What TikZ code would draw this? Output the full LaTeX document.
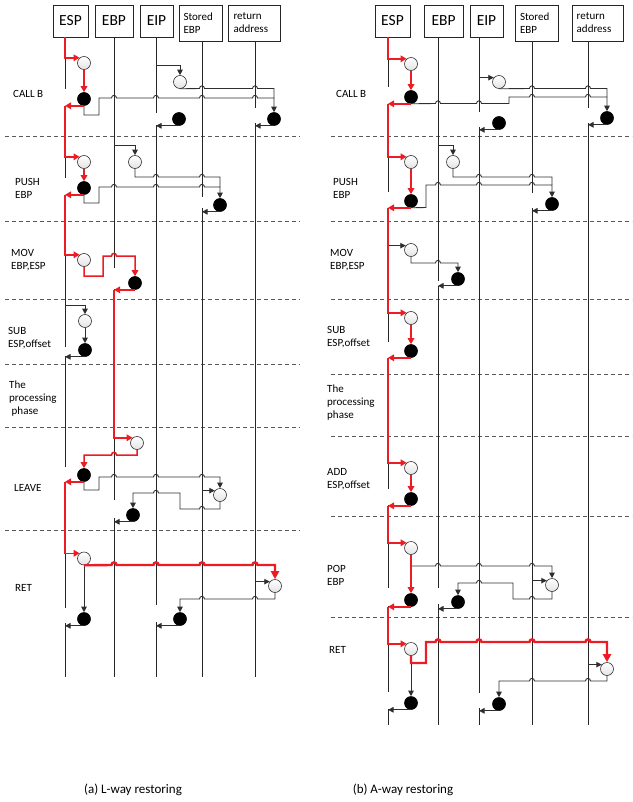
\documentclass[tikz,border=0pt]{standalone}
\usepackage{fontspec}
\setmainfont{Carlito}
\usetikzlibrary{arrows.meta}
\definecolor{rred}{RGB}{237,28,36}
\begin{document}
\begin{tikzpicture}[x=1pt,y=-1pt,
  hdr/.style={draw=black!85, line width=0.7pt, inner sep=0pt},
  big/.style={font=\fontsize{15.5}{18}\selectfont},
  sm/.style={font=\fontsize{11}{13}\selectfont},
  oc/.style={circle, draw=black!80, line width=0.6pt, top color=white, bottom color=gray!22, minimum size=13pt, inner sep=0pt},
  fc/.style={circle, draw=black, line width=0.6pt, fill=black, minimum size=13pt, inner sep=0pt},
  life/.style={draw=black!85, line width=0.85pt},
  con/.style={draw=black!82, line width=0.9pt},
  ar/.style={-{Triangle[length=5.5pt,width=5.5pt]}},
  rd/.style={draw=rred, line width=1.5pt},
  rdk/.style={draw=rred, line width=2.4pt},
  rar/.style={-{Triangle[length=6pt,width=6.5pt]}},
  rarb/.style={-{Triangle[length=8pt,width=8pt]}},
  sepl/.style={draw=black!65, dash pattern=on 4pt off 3pt, line width=0.7pt},
  lbl/.style={sm, anchor=west, align=left, inner sep=0pt},
  hr/.style 2 args={insert path={-- (#1-2.5,#2) .. controls (#1-2.5,#2-3.5) and (#1+2.5,#2-3.5) .. (#1+2.5,#2)}},
  hl/.style 2 args={insert path={-- (#1+2.5,#2) .. controls (#1+2.5,#2-3.5) and (#1-2.5,#2-3.5) .. (#1-2.5,#2)}},
]
\useasboundingbox (0,0) rectangle (632,802);

% column coordinates
\coordinate (aESP) at (65,0); \coordinate (aEBP) at (114,0); \coordinate (aEIP) at (156,0);
\coordinate (aST) at (202,0); \coordinate (aRA) at (255,0);
\coordinate (bESP) at (388,0); \coordinate (bEBP) at (438,0); \coordinate (bEIP) at (479,0);
\coordinate (bST) at (532,0); \coordinate (bRA) at (588,0);

% headers (a)
\node[hdr, big, minimum width=35pt, minimum height=32pt] (haESP) at (70.5,21) {ESP};
\node[hdr, big, minimum width=38pt, minimum height=32pt] (haEBP) at (114,21) {EBP};
\node[hdr, big, minimum width=33pt, minimum height=32pt] (haEIP) at (156.5,21) {EIP};
\node[hdr, sm, minimum width=43pt, minimum height=36pt, text width=34pt, align=left] (haST) at (200.5,23) {Stored\\EBP};
\node[hdr, sm, minimum width=52pt, minimum height=36pt, text width=41pt, align=left] (haRA) at (254,23) {return\\address};
% headers (b)
\node[hdr, big, minimum width=35pt, minimum height=32pt] (hbESP) at (392.5,21) {ESP};
\node[hdr, big, minimum width=39pt, minimum height=32pt] (hbEBP) at (443.5,21) {EBP};
\node[hdr, big, minimum width=33pt, minimum height=32pt] (hbEIP) at (486.5,21) {EIP};
\node[hdr, sm, minimum width=43pt, minimum height=36pt, text width=33pt, align=left] (hbST) at (536.5,23) {Stored\\EBP};
\node[hdr, sm, minimum width=51pt, minimum height=36pt, text width=41.6pt, align=left] (hbRA) at (597.5,23) {return\\address};

% separators
\foreach \yy in {136,221,299,364,427,530} \draw[sepl] (5,\yy) -- (300,\yy);
\foreach \yy in {136,221,299,374,436,516,617} \draw[sepl] (331,\yy) -- (632,\yy);

% labels (a)
\node[lbl] (la1) at (13,94) {CALL B};
\node[lbl] (la2) at (15,188) {PUSH\\EBP};
\node[lbl] (la3) at (11,260.5) {MOV\\EBP,ESP};
\node[lbl] (la4) at (8,338) {SUB\\ESP,offset};
\node[lbl] (la5) at (9,399) {The\\processing\\\hspace{2.5pt}phase};
\node[lbl] (la6) at (14,488) {LEAVE};
\node[lbl] (la7) at (15,588) {RET};
% labels (b)
\node[lbl] (lb1) at (336,94) {CALL B};
\node[lbl] (lb2) at (333,188) {PUSH\\EBP};
\node[lbl] (lb3) at (330,260) {MOV\\EBP,ESP};
\node[lbl] (lb4) at (327,337.5) {SUB\\ESP,offset};
\node[lbl] (lb5) at (327,403) {The\\processing\\phase};
\node[lbl] (lb6) at (327,479.5) {ADD\\ESP,offset};
\node[lbl] (lb7) at (327,575) {POP\\EBP};
\node[lbl] (lb8) at (329,650) {RET};
% captions
\node[font=\fontsize{13}{15}\selectfont] (capa) at (133,790) {(a) L-way restoring};
\node[font=\fontsize{13}{15}\selectfont] (capb) at (403,790) {(b) A-way restoring};

% circles (a)
\node[oc] (a1o) at (84,63) {};
\node[fc] (a1f) at (84,99) {};
\node[oc] (a1e) at (180,82) {};
\node[fc] (a1r) at (274,119) {};
\node[fc] (a1ef) at (179,119) {};
\node[oc] (a2o) at (84,162) {};
\node[fc] (a2f) at (84,188) {};
\node[oc] (a2b) at (135,162) {};
\node[fc] (a2s) at (220,205) {};
\node[oc] (a3o) at (84,260) {};
\node[fc] (a3f) at (135,283) {};
\node[oc] (a4o) at (85,321) {};
\node[fc] (a4f) at (85,350) {};
\node[oc] (a6o) at (137,443) {};
\node[fc] (a6f) at (84,475) {};
\node[oc] (a6s) at (220,495) {};
\node[fc] (a6e) at (133,515) {};
\node[oc] (a7o) at (84,558.5) {};
\node[oc] (a7r) at (275,586) {};
\node[fc] (a7f) at (84,619) {};
\node[fc] (a7e) at (180,619) {};
% circles (b)
\node[oc] (b1o) at (411,64) {};
\node[fc] (b1f) at (411,97) {};
\node[oc] (b1e) at (499,82) {};
\node[fc] (b1r) at (607,118) {};
\node[fc] (b1ef) at (499,123) {};
\node[oc] (b2o) at (411,162) {};
\node[fc] (b2f) at (411,201) {};
\node[oc] (b2b) at (453,162) {};
\node[fc] (b2s) at (552,204) {};
\node[oc] (b3o) at (411,250) {};
\node[fc] (b3f) at (458,279) {};
\node[oc] (b4o) at (411,318) {};
\node[fc] (b4f) at (411,351) {};
\node[oc] (b5o) at (411,468) {};
\node[fc] (b5f) at (411,499) {};
\node[oc] (b6o) at (411,548) {};
\node[fc] (b6f) at (411,600) {};
\node[oc] (b6s) at (552,585) {};
\node[fc] (b6e) at (458,602) {};
\node[oc] (b7o) at (411,649) {};
\node[oc] (b7r) at (607,669) {};
\node[fc] (b7f) at (411,703) {};
\node[fc] (b7e) at (499,704) {};

% lifelines (a)
\draw[life] (65,37) -- (65,89);
\draw[life] (65,107) -- (65,178);
\draw[life] (65,195) -- (65,347);
\draw[life] (65,356) -- (65,467);
\draw[life] (65,482) -- (65,608);
\draw[life] (65,623) -- (65,677);
\draw[life] (114,37) -- (114,268);
\draw[life] (114,289) -- (114,500);
\draw[life] (114,518) -- (114,677);
\draw[life] (156,37) -- (156,113);
\draw[life] (156,125) -- (156,605);
\draw[life] (156,622) -- (156,677);
\draw[life] (202,41) -- (202,197);
\draw[life] (202,208) -- (202,677);
\draw[life] (255,41) -- (255,108);
\draw[life] (255,123) -- (255,677);
% lifelines (b)
\draw[life] (388,37) -- (388,87);
\draw[life] (388,104) -- (388,192);
\draw[life] (388,208) -- (388,342);
\draw[life] (388,358) -- (388,489);
\draw[life] (388,505) -- (388,588);
\draw[life] (388,606) -- (388,692);
\draw[life] (388,709) -- (388,725);
\draw[life] (438,37) -- (438,281);
\draw[life] (438,286) -- (438,588);
\draw[life] (438,604) -- (438,725);
\draw[life] (479,37) -- (479,112);
\draw[life] (479,127) -- (479,693);
\draw[life] (479,708) -- (479,725);
\draw[life] (532,41) -- (532,193);
\draw[life] (532,208) -- (532,725);
\draw[life] (588,41) -- (588,108);
\draw[life] (588,123) -- (588,725);

% ---------- black connectors (a)
% CALL B
\draw[con,ar] (a1f.south) -- (84,115) -- (99,115) -- (99,98) [hr={114}{98}] [hr={156}{98}] [hr={202}{98}] [hr={255}{98}] -| (a1r.north);
\draw[con,ar] (156,65) -| (a1e.north);
\draw[con] (a1e.south) [hr={202}{88.5}] [hr={255}{88.5}] -- (274,88.5) -- (274,98);
\draw[con,ar] (a1ef.south) -- (a1ef.south -| aEIP);
\draw[con,ar] (a1r.south) -- (a1r.south -| aRA);
% PUSH EBP
\draw[con,ar] (a2f.south) -- (84,203) -- (99,203) -- (99,187) [hr={114}{187}] [hr={156}{187}] [hr={202}{187}] -| (a2s.north);
\draw[con,ar] (114,145) -| (a2b.north);
\draw[con] (a2b.south) -- (135,177) [hr={156}{177}] [hr={202}{177}] -- (220,177) -- (220,187);
\draw[con,ar] (a2s.south) -- (a2s.south -| aST);
% SUB
\draw[con,ar] (65,305) -| (a4o.north);
\draw[con,ar] (a4o.south) -- (a4f.north);
\draw[con,ar] (a4f.south) -- (a4f.south -| aESP);
% LEAVE
\draw[con,ar] (a6f.south) -- (84,490) -- (99,490) -- (99,477) [hr={114}{477}] [hr={156}{477}] [hr={202}{477}] -| (a6s.north);
\draw[con,ar] (a6s.140 -| aST) -- (a6s.140);
\draw[con,ar] (a6s.south) -- (220,509) [hl={202}{509}] -- (180,509) -- (180,493) [hl={156}{493}] -| (a6e.north);
\draw[con,ar] (a6e.south) -- (a6e.south -| aEBP);
% RET
\draw[con,ar] (a7r.140 -| aRA) -- (a7r.140);
\draw[con,ar] (a7o.south) -- (a7f.north);
\draw[con,ar] (a7f.south) -- (a7f.south -| aESP);
\draw[con,ar] (a7r.south) -- (275,599) [hl={255}{599}] [hl={202}{599}] -| (a7e.north);
\draw[con,ar] (a7e.south) -- (a7e.south -| aEIP);

% ---------- black connectors (b)
% CALL B
\draw[con,ar] (b1f.south) [hr={438}{103.5}] [hr={479}{103.5}] -- (509,103.5) -- (509,97) [hr={532}{97}] [hr={588}{97}] -| (b1r.north);
\draw[con,ar] (b1e.140 -| bEIP) -- (b1e.140);
\draw[con] (b1e.south) [hr={532}{88.5}] [hr={588}{88.5}] -- (607,88.5) -- (607,97);
\draw[con,ar] (b1ef.south) -- (b1ef.south -| bEIP);
\draw[con,ar] (b1r.south) -- (b1r.south -| bRA);
% PUSH EBP
\draw[con,ar] (b2f.south) -- (426,207.5) -- (426,185) [hr={438}{185}] [hr={479}{185}] [hr={532}{185}] -| (b2s.north);
\draw[con,ar] (438,145) -| (b2b.north);
\draw[con] (b2b.south) -- (453,177) [hr={479}{177}] [hr={532}{177}] -- (552,177) -- (552,185);
\draw[con,ar] (b2s.south) -- (b2s.south -| bST);
% MOV
\draw[con,ar] (b3o.140 -| bESP) -- (b3o.140);
\draw[con,ar] (b3o.south) -- (411,263) [hr={438}{263}] -| (b3f.north);
\draw[con,ar] (b3f.south) -- (b3f.south -| bEBP);
% POP
\draw[con,ar] (b6o.south) -- (411,566) [hr={438}{566}] [hr={479}{566}] [hr={532}{566}] -| (b6s.north);
\draw[con,ar] (b6s.140 -| bST) -- (b6s.140);
\draw[con,ar] (b6s.south) -- (552,599) [hl={532}{599}] -- (513,599) -- (513,583) [hl={479}{583}] -| (b6e.north);
\draw[con,ar] (b6e.south) -- (b6e.south -| bEBP);
% RET
\draw[con,ar] (b7r.140 -| bRA) -- (b7r.140);
\draw[con,ar] (b7o.south) -- (b7f.north);
\draw[con,ar] (b7f.south) -- (b7f.south -| bESP);
\draw[con,ar] (b7r.south) -- (607,681) [hl={588}{681}] [hl={532}{681}] -| (b7e.north);
\draw[con,ar] (b7e.south) -- (b7e.south -| bEIP);

% ---------- red path (a)
\draw[rd,rar] (65,37) |- (a1o.130);
\draw[rd,rar] (a1o.south) -- (a1f.north);
\draw[rd,rar] (a1f.south) -- (a1f.south -| aESP);
\draw[rd,rar] (a1f.south -| aESP) |- (a2o.130);
\draw[rd,rar] (a2o.south) -- (a2f.north);
\draw[rd,rar] (a2f.south) -- (a2f.south -| aESP);
\draw[rd,rar] (a2f.south -| aESP) |- (a3o.130);
\draw[rd,rar] (a3o.south) -- (84,276) -- (103,276) -- (103,256) [hr={114}{256}] -| (a3f.north);
\draw[rd,rar] (a3f.south) -- (a3f.south -| aEBP);
\draw[rd,rar] (a3f.south -| aEBP) |- (a6o.130);
\draw[rd,rar] (a6o.south) -- (137,455) [hl={114}{455}] -| (a6f.north);
\draw[rd,rar] (a6f.south) -- (a6f.south -| aESP);
\draw[rd,rar] (a6f.south -| aESP) |- (a7o.130);
\draw[rdk,rarb] (a7o.south) [hr={114}{565}] [hr={156}{565}] [hr={202}{565}] [hr={255}{565}] -| (a7r.north);

% ---------- red path (b)
\draw[rd,rar] (388,37) |- (b1o.130);
\draw[rd,rar] (b1o.south) -- (b1f.north);
\draw[rd,rar] (b1f.south) -- (b1f.south -| bESP);
\draw[rd,rar] (b1f.south -| bESP) |- (b2o.130);
\draw[rd,rar] (b2o.south) -- (b2f.north);
\draw[rd,rar] (b2f.south) -- (b2f.south -| bESP);
\draw[rd,rar] (b2f.south -| bESP) |- (b4o.130);
\draw[rd,rar] (b4o.south) -- (b4f.north);
\draw[rd,rar] (b4f.south) -- (b4f.south -| bESP);
\draw[rd,rar] (b4f.south -| bESP) |- (b5o.130);
\draw[rd,rar] (b5o.south) -- (b5f.north);
\draw[rd,rar] (b5f.south) -- (b5f.south -| bESP);
\draw[rd,rar] (b5f.south -| bESP) |- (b6o.130);
\draw[rd,rar] (b6o.south) -- (b6f.north);
\draw[rd,rar] (b6f.south) -- (b6f.south -| bESP);
\draw[rd,rar] (b6f.south -| bESP) |- (b7o.130);
\draw[rdk,rarb] (b7o.south) -- (411,663) -- (426,663) -- (426,642) [hr={438}{642}] [hr={479}{642}] [hr={532}{642}] [hr={588}{642}] -| (b7r.north);
\end{tikzpicture}
\end{document}
